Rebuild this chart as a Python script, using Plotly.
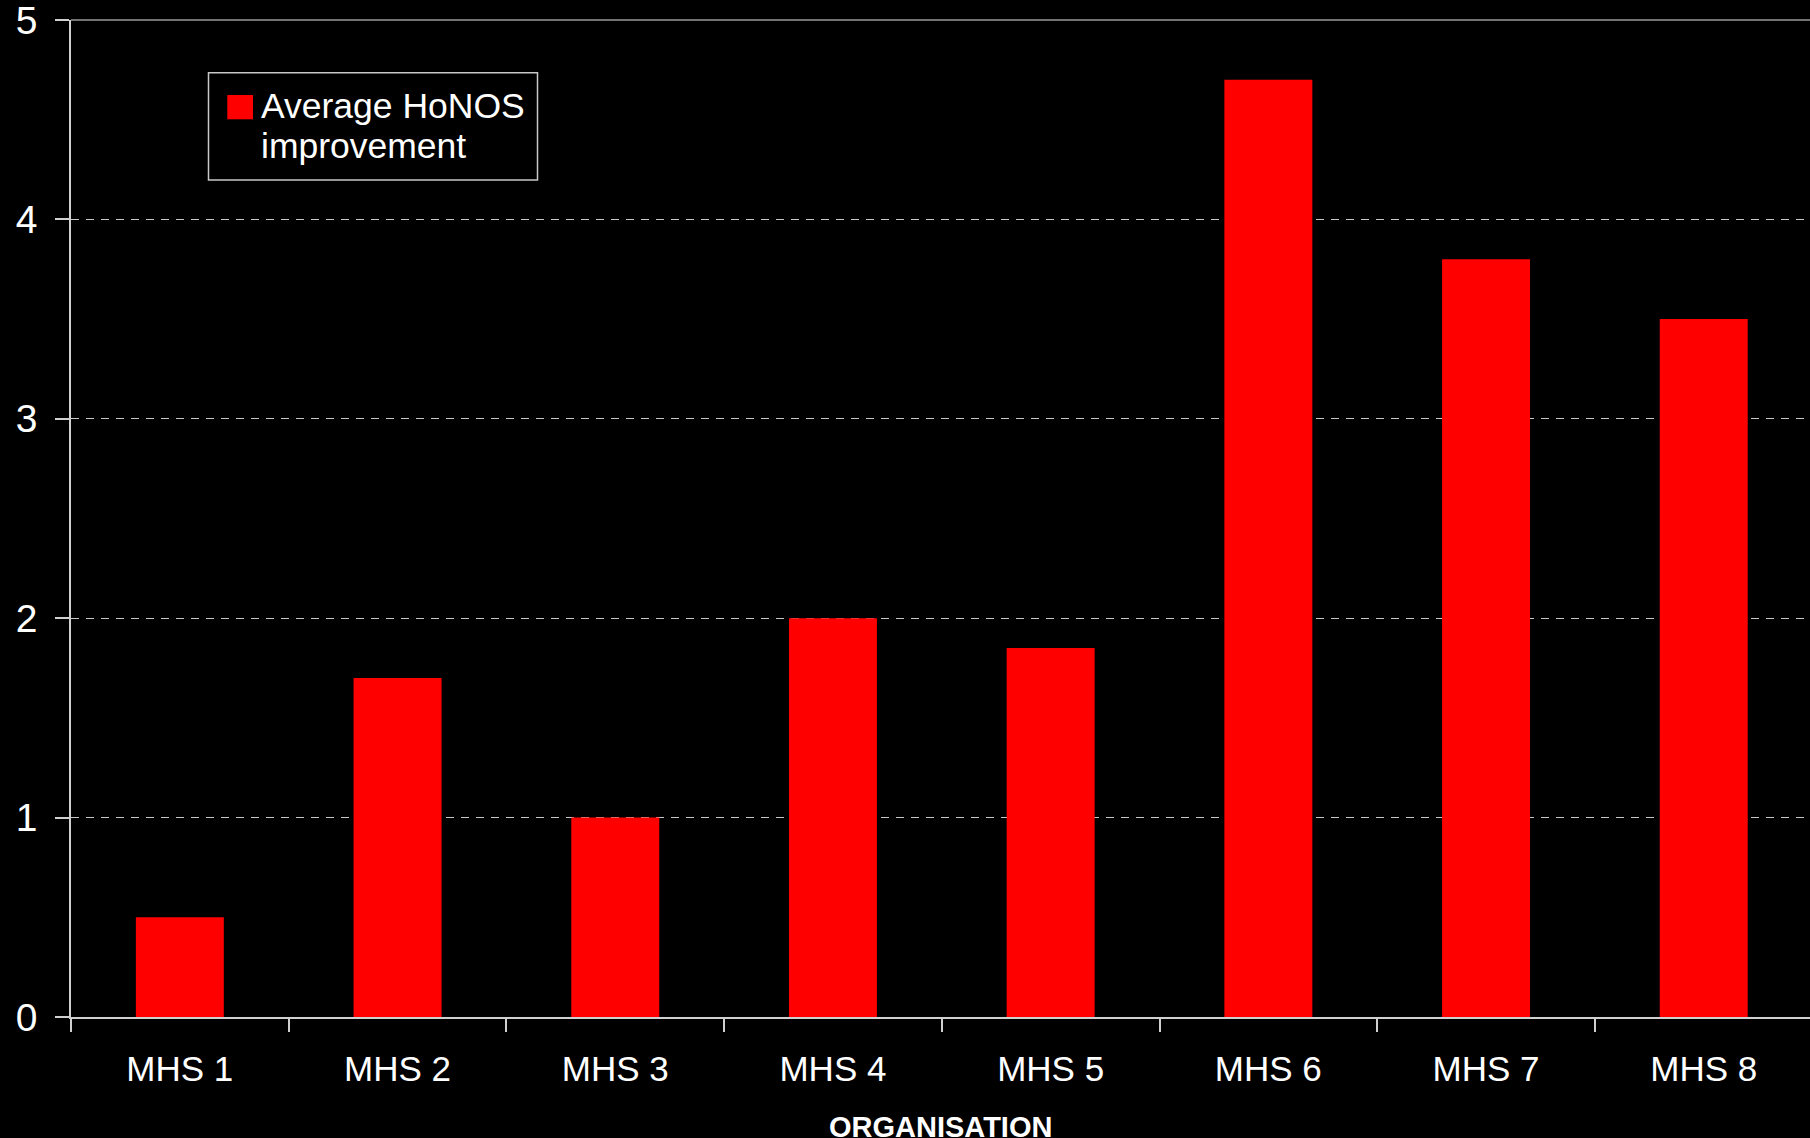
import plotly.graph_objects as go

categories = ["MHS 1", "MHS 2", "MHS 3", "MHS 4", "MHS 5", "MHS 6", "MHS 7", "MHS 8"]
improvement = [0.5, 1.7, 1.0, 2.0, 1.85, 4.7, 3.8, 3.5]
series_name = "Average HoNOS improvement"
y_ticks = [0, 1, 2, 3, 4, 5]
x_title = "ORGANISATION"

W, H = 1810, 1138
ML, MR, MT, MB = 71, 0, 20, 121
FONT = "Liberation Sans, Arial, sans-serif"

fig = go.Figure()
fig.add_trace(go.Bar(
    x=list(range(len(categories))), y=improvement, name=series_name,
    marker=dict(color="#ff0000", line=dict(width=0)),
    showlegend=False,
))

pw = W - ML - MR
ph = H - MT - MB
def px_x(p):
    return (p - ML) / pw
def px_y(p):
    return (H - MB - p) / ph

shapes = [
    # top frame line
    dict(type="line", xref="paper", yref="paper", x0=0, x1=1, y0=1, y1=1,
         line=dict(color="#9a9a9a", width=1.5)),
    # legend box
    dict(type="rect", xref="paper", yref="paper",
         x0=px_x(208.5), x1=px_x(537.5), y0=px_y(180), y1=px_y(72.7),
         line=dict(color="#c8c8c8", width=1.5), fillcolor="rgba(0,0,0,0)"),
    # legend swatch
    dict(type="rect", xref="paper", yref="paper",
         x0=px_x(227.3), x1=px_x(253), y0=px_y(119.3), y1=px_y(95),
         line=dict(width=0), fillcolor="#ff0000"),
]

words = series_name.split(" ")
line1 = " ".join(words[:2])
line2 = " ".join(words[2:])
annotations = [
    dict(text=line1, xref="paper", yref="paper", x=px_x(259), y=px_y(106),
         xanchor="left", yanchor="middle", showarrow=False,
         font=dict(family=FONT, size=35.5, color="white")),
    dict(text=line2, xref="paper", yref="paper", x=px_x(259), y=px_y(146),
         xanchor="left", yanchor="middle", showarrow=False,
         font=dict(family=FONT, size=35.5, color="white")),
    # x-axis title (partly cut by the bottom edge, as in the original)
    dict(text="<b>" + x_title + "</b>", xref="paper", yref="paper",
         x=0.5, y=px_y(1109), xanchor="center", yanchor="top", showarrow=False,
         font=dict(family=FONT, size=29, color="white")),
]

fig.update_layout(
    width=W, height=H,
    margin=dict(l=ML, r=MR, t=MT, b=MB, autoexpand=False),
    paper_bgcolor="black", plot_bgcolor="black",
    bargap=0.596,
    shapes=shapes, annotations=annotations,
    font=dict(family=FONT, color="white"),
)
fig.update_xaxes(
    range=[-0.5, -0.5 + pw / 217.7],
    tickmode="array", tickvals=list(range(len(categories))), ticktext=categories,
    ticks="", showgrid=False,
    showline=True, linecolor="#d0d0d0", linewidth=1.5,
    tickfont=dict(family=FONT, size=35, color="white"),
    ticklabelstandoff=20,
    automargin=False,
    minor=dict(tickmode="array", tickvals=[i - 0.5 for i in range(len(categories) + 1)],
               ticks="outside", ticklen=13, tickcolor="#d0d0d0", tickwidth=1.5),
)
fig.update_yaxes(
    range=[0, 5], tickmode="array", tickvals=y_ticks,
    ticks="outside", ticklen=14, tickcolor="#d0d0d0", tickwidth=1.5,
    showline=True, linecolor="#d0d0d0", linewidth=1.5,
    showgrid=True, gridcolor="#c8c8c8", gridwidth=1, griddash="8px,7px",
    zeroline=False,
    tickfont=dict(family=FONT, size=39, color="white"),
    ticklabelstandoff=10, ticklabeloverflow="allow",
    automargin=False,
)

fig.write_html("out.html")
